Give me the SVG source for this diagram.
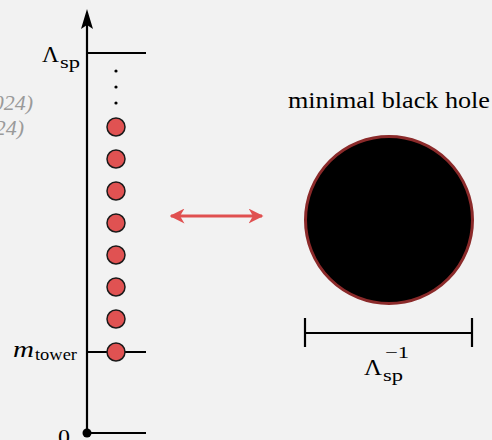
<svg xmlns="http://www.w3.org/2000/svg" width="492" height="440" viewBox="0 0 492 440">
<style>
.t{font-family:"Liberation Serif","DejaVu Serif",serif;fill:#000}
.ax{stroke:#000;stroke-width:2.2;fill:none}
.st{fill:#e05252;stroke:#1a1a1a;stroke-width:1.5}
.faint{font-family:"Liberation Serif","DejaVu Serif",serif;font-style:italic;fill:#9a9a9a;font-size:22px}
</style>
<defs>
<marker id="ah" viewBox="0 0 10 10" refX="9" refY="5" markerWidth="5" markerHeight="5" orient="auto-start-reverse">
<path d="M0,0 L10,5 L0,10 L3,5 Z" fill="#e05050"/>
</marker>
</defs>
<rect width="492" height="440" fill="#f2f2f2"/>
<text class="faint" x="33" y="110" text-anchor="end">(2024)</text>
<text class="faint" x="24" y="135" text-anchor="end">(2024)</text>
<g id="axis">
<line class="ax" x1="87" y1="433" x2="87" y2="22"/>
<path d="M87,9 L93,29 L87,25 L81,29 Z" fill="#000"/>
<line class="ax" x1="87" y1="53" x2="146" y2="53"/>
<line class="ax" x1="87" y1="352" x2="146" y2="352"/>
<line class="ax" x1="87" y1="433" x2="146" y2="433"/>
<circle cx="87" cy="433" r="4.5" fill="#000"/>
<text class="t" x="42" y="62" font-size="23" textLength="17" lengthAdjust="spacingAndGlyphs">Λ</text>
<text class="t" x="60" y="68" font-size="17" textLength="20" lengthAdjust="spacingAndGlyphs">sp</text>
<text class="t" x="13" y="357" font-size="24" font-style="italic" textLength="21" lengthAdjust="spacingAndGlyphs">m</text>
<text class="t" x="35" y="360" font-size="17" textLength="42" lengthAdjust="spacingAndGlyphs">tower</text>
<text class="t" x="58" y="444" font-size="22" textLength="12" lengthAdjust="spacingAndGlyphs">0</text>
</g>
<g id="states">
<circle cx="116" cy="71" r="1.6" fill="#000"/>
<circle cx="116" cy="87" r="1.6" fill="#000"/>
<circle cx="116" cy="103" r="1.6" fill="#000"/>
<circle class="st" cx="116" cy="127" r="9"/>
<circle class="st" cx="116" cy="159" r="9"/>
<circle class="st" cx="116" cy="191" r="9"/>
<circle class="st" cx="116" cy="223" r="9"/>
<circle class="st" cx="116" cy="255" r="9"/>
<circle class="st" cx="116" cy="287" r="9"/>
<circle class="st" cx="116" cy="319" r="9"/>
<circle class="st" cx="116" cy="352" r="9"/>
</g>
<g id="connectors">
<line x1="171" y1="216" x2="262" y2="216" stroke="#e05050" stroke-width="3" marker-start="url(#ah)" marker-end="url(#ah)"/>
</g>
<g id="blackhole">
<text class="t" x="288" y="108" font-size="23" textLength="202" lengthAdjust="spacingAndGlyphs">minimal black hole</text>
<circle cx="389" cy="220" r="83.5" fill="#000" stroke="#8b2a2a" stroke-width="3"/>
</g>
<g id="scale">
<line class="ax" x1="305" y1="333" x2="472" y2="333" stroke-width="3"/>
<line class="ax" x1="305" y1="318" x2="305" y2="347" stroke-width="3"/>
<line class="ax" x1="472" y1="318" x2="472" y2="347" stroke-width="3"/>
<text class="t" x="364" y="375" font-size="23" textLength="18" lengthAdjust="spacingAndGlyphs">Λ</text>
<text class="t" x="383" y="381" font-size="17" textLength="20" lengthAdjust="spacingAndGlyphs">sp</text>
<text class="t" x="385" y="358" font-size="17" textLength="24" lengthAdjust="spacingAndGlyphs">−1</text>
</g>
</svg>
